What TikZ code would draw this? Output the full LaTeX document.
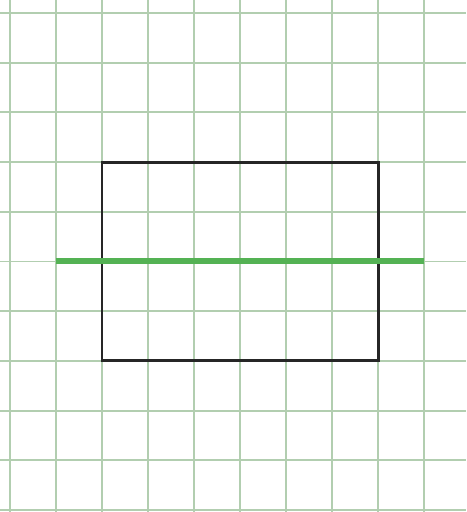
\documentclass[tikz,border=0pt]{standalone}
\usepackage{tikz}
\usetikzlibrary{calc}

\definecolor{gridgreen}{RGB}{178,206,176}
\definecolor{linegreen}{RGB}{84,178,84}

\begin{document}
\begin{tikzpicture}[x=0.92cm,y=-0.994cm]

\useasboundingbox[fill=white] (-0.217,-0.26) rectangle (9.913,10.04);

\foreach \x in {0,1,...,9}
    \draw[gridgreen,line width=1.1pt] (\x,-0.26) -- (\x,10.04);
\foreach \y in {0,1,...,10}
    \draw[gridgreen,line width=1.1pt] (-0.217,\y) -- (9.913,\y);

\coordinate (topleft) at (2,3);
\coordinate (bottomright) at (8,7);
\draw[black!85,line width=1.7pt] (topleft) rectangle (bottomright);

\coordinate (L) at (1,5);
\coordinate (R) at (9,5);
\draw[linegreen,line width=3.4pt] (L) -- (R);

\end{tikzpicture}
\end{document}
